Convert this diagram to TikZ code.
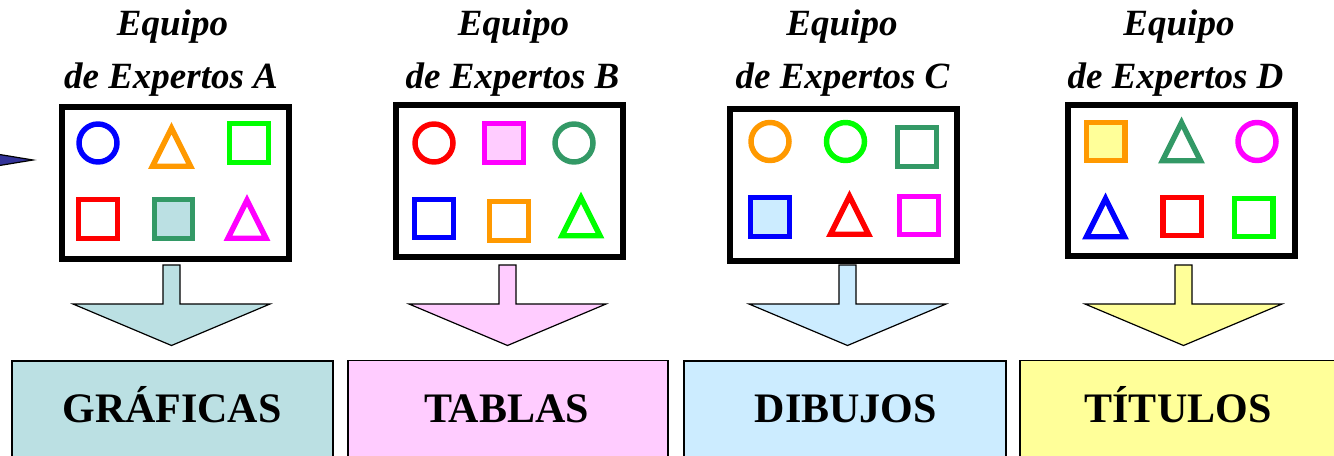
\documentclass[tikz,border=0pt]{standalone}
\usepackage{fontspec}
\setmainfont{Liberation Serif}
\usetikzlibrary{positioning}
\definecolor{tealfill}{HTML}{BBE0E3}
\definecolor{pinkfill}{HTML}{FFCCFF}
\definecolor{bluefill}{HTML}{CCECFF}
\definecolor{yellowfill}{HTML}{FFFF99}
\definecolor{seagreen}{HTML}{339966}
\definecolor{orangeline}{HTML}{FF9900}
\definecolor{greenline}{HTML}{00FF00}
\definecolor{magentaline}{HTML}{FF00FF}
\definecolor{navyhead}{HTML}{333399}
% figuras dentro de los paneles
\newcommand{\formcirc}[3]{\draw[figura=#3] (#1,#2) circle (14.25pt);}
\newcommand{\formsq}[4]{\draw[figura=#3,fill=#4] (#1-19.25,#2-19.25) rectangle (#1+19.25,#2+19.25);}
\newcommand{\formtri}[3]{\draw[figura=#3] (#1-19,#2+20.75) -- (#1,#2-17.35) -- (#1+19,#2+20.75) -- cycle;}
\newcommand{\blockarrow}[2]{\draw[flecha,fill=#2] (#1-8.5,265) -- (#1-8.5,304) -- (#1-98.5,304) -- (#1,345.5) -- (#1+98.5,304) -- (#1+8.5,304) -- (#1+8.5,265) -- cycle;}

\begin{document}
\begin{tikzpicture}[x=0.75pt,y=-0.75pt,
  panel/.style={draw,fill=white,line width=4.5pt,minimum width=170.25pt,minimum height=113.25pt,inner sep=0pt},
  tagbox/.style={draw,line width=0.9pt,fill=#1,minimum height=81.75pt,inner sep=0pt},
  titulo/.style={anchor=base,inner sep=0pt,font=\fontsize{27.75}{33}\selectfont\bfseries\itshape},
  etiqueta/.style={anchor=base,inner sep=0pt,font=\fontsize{31.5}{38}\selectfont\bfseries},
  figura/.style={draw=#1,line width=4.1pt},
  flecha/.style={draw,line width=0.9pt}]
\useasboundingbox (0,0) rectangle (1334,456);
\clip (0,0) rectangle (1334,456);

% titulos
\node[titulo] (titA) at (172.5,36) {Equipo};
\node[titulo] (subA) at (171,89) {de Expertos A};
\node[titulo] (titB) at (513.5,36) {Equipo};
\node[titulo] (subB) at (512.5,89) {de Expertos B};
\node[titulo] (titC) at (842,36) {Equipo};
\node[titulo] (subC) at (842.5,89) {de Expertos C};
\node[titulo] (titD) at (1179,36) {Equipo};
\node[titulo] (subD) at (1175.5,89) {de Expertos D};

% paneles
\node[panel] (panelA) at (175.5,183) {};
\node[panel] (panelB) at (509.5,181) {};
\node[panel] (panelC) at (843.5,185) {};
\node[panel] (panelD) at (1181.5,180.5) {};

% punta de flecha
\draw[flecha,fill=navyhead] (-40,148) -- (33,160) -- (-40,172) -- cycle;

% panel A
\formcirc{98}{143}{blue}
\formtri{171.5}{145.5}{orangeline}
\formsq{249}{143}{greenline}{none}
\formsq{98}{219}{red}{none}
\formsq{173.5}{219}{seagreen}{tealfill}
\formtri{247}{217.5}{magentaline}
% panel B
\formcirc{434}{143}{red}
\formsq{504}{143}{magentaline}{pinkfill}
\formcirc{574}{143}{seagreen}
\formsq{434}{218.5}{blue}{none}
\formsq{509}{221}{orangeline}{none}
\formtri{581}{215}{greenline}
% panel C
\formcirc{770}{141.5}{orangeline}
\formcirc{845.5}{141.5}{greenline}
\formsq{917}{147}{seagreen}{none}
\formsq{770}{217}{blue}{bluefill}
\formtri{849.5}{213.5}{red}
\formsq{919}{215.5}{magentaline}{none}
% panel D
\formsq{1105.5}{141.5}{orangeline}{yellowfill}
\formtri{1181.5}{140}{seagreen}
\formcirc{1257}{141.5}{magentaline}
\formtri{1105.5}{216}{blue}
\formsq{1182}{216.5}{red}{none}
\formsq{1253.5}{217.5}{greenline}{none}

% flechas
\blockarrow{171.5}{tealfill}
\blockarrow{507.5}{pinkfill}
\blockarrow{847.5}{bluefill}
\blockarrow{1183.5}{yellowfill}

% etiquetas
\node[tagbox=tealfill,minimum width=240.75pt] (tagA) at (172.5,415.5) {};
\node[tagbox=pinkfill,minimum width=240pt] (tagB) at (508,415) {};
\node[tagbox=bluefill,minimum width=241.5pt] (tagC) at (845,415.5) {};
\node[tagbox=yellowfill,minimum width=243.75pt] (tagD) at (1182.5,415) {};
\node[etiqueta] (labA) at (172,422) {GRÁFICAS};
\node[etiqueta] (labB) at (506.5,422) {TABLAS};
\node[etiqueta] (labC) at (846,422) {DIBUJOS};
\node[etiqueta] (labD) at (1178,422) {TÍTULOS};
\end{tikzpicture}
\end{document}
